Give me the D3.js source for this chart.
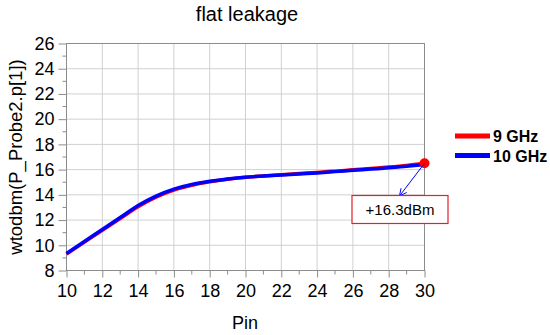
<!DOCTYPE html>
<html><head><meta charset="utf-8">
<script src="https://cdn.jsdelivr.net/npm/d3@7"></script>
<style>body{margin:0;background:#fff}svg{display:block;font-family:"Liberation Sans",Arial,sans-serif}</style>
</head><body><svg id="c" width="550" height="335"></svg>
<script>
const pin = [10,11,12,13,14,15,16,17,18,19,20,21,22,23,24,25,26,27,28,29,30];
const ghz9 = [9.30,10.25,11.18,12.12,13.06,13.82,14.38,14.76,15.03,15.24,15.40,15.50,15.60,15.69,15.78,15.88,15.98,16.09,16.20,16.33,16.50];
const ghz10 = [9.35,10.30,11.25,12.20,13.15,13.90,14.45,14.82,15.07,15.26,15.40,15.49,15.57,15.66,15.74,15.84,15.94,16.04,16.14,16.26,16.40];
const seriesNames = ["9 GHz","10 GHz"];
const seriesColors = ["#ff0000","#0000ff"];
const xTicks = [10,12,14,16,18,20,22,24,26,28,30];
const yTicks = [8,10,12,14,16,18,20,22,24,26];
const markerLabel = "+16.3dBm";

const svg = d3.select("#c");
const x = d3.scaleLinear().domain([10,30]).range([66.5,424.5]);
const y = d3.scaleLinear().domain([8,26]).range([270.5,43.5]);

// grid
const g = svg.append("g");
g.selectAll(".vg").data(xTicks.slice(1,-1)).join("line")
  .attr("x1",d=>x(d)).attr("x2",d=>x(d)).attr("y1",y(8)).attr("y2",y(26))
  .attr("stroke","#d0d0d0").attr("stroke-width",1);
g.selectAll(".hg").data(yTicks.slice(1,-1)).join("line")
  .attr("y1",d=>y(d)).attr("y2",d=>y(d)).attr("x1",x(10)).attr("x2",x(30))
  .attr("stroke","#d0d0d0").attr("stroke-width",1);
// frame
svg.append("rect").attr("x",x(10)).attr("y",y(26)).attr("width",x(30)-x(10)).attr("height",y(8)-y(26))
  .attr("fill","none").attr("stroke","#8c8c8c").attr("stroke-width",1);

// axes
const xAxis = d3.axisBottom(x).tickValues(xTicks).tickSize(7).tickPadding(7).tickFormat(d3.format("d"));
const xa = svg.append("g").attr("transform",`translate(0,${y(8)})`).call(xAxis);
const yAxis = d3.axisLeft(y).tickValues(yTicks).tickSize(8).tickPadding(4).tickFormat(d3.format("d"));
const ya = svg.append("g").attr("transform",`translate(${x(10)},0)`).call(yAxis);
[xa,ya].forEach(a=>{
  a.select(".domain").remove();
  a.selectAll(".tick line").attr("stroke","#8c8c8c");
  a.selectAll("text").attr("font-size",18).attr("fill","#000").attr("font-family","Liberation Sans, Arial, sans-serif");
});
// minor ticks
const xm = d3.range(11,30,2), ym = d3.range(9,26,2);
svg.append("g").selectAll("line").data(xm).join("line")
  .attr("x1",d=>x(d)).attr("x2",d=>x(d)).attr("y1",y(8)).attr("y2",y(8)+4).attr("stroke","#8c8c8c");
svg.append("g").selectAll("line").data(ym).join("line")
  .attr("y1",d=>y(d)).attr("y2",d=>y(d)).attr("x1",x(10)).attr("x2",x(10)-4).attr("stroke","#8c8c8c");

// lines
const line = d3.line().x((d,i)=>x(pin[i])).y(d=>y(d)).curve(d3.curveMonotoneX);
[ghz9,ghz10].forEach((s,i)=>{
  svg.append("path").datum(s).attr("d",line).attr("fill","none")
    .attr("stroke",seriesColors[i]).attr("stroke-width",3.5).attr("stroke-linejoin","round");
});

// marker
const mx = x(pin[pin.length-1]), my = y(ghz9[ghz9.length-1]);
svg.append("circle").attr("cx",mx).attr("cy",my).attr("r",5).attr("fill","#ff0000");
// arrow
const ax = x(28.6), ay = y(13.9);
svg.append("line").attr("x1",mx).attr("y1",my).attr("x2",ax).attr("y2",ay).attr("stroke","#0000ff").attr("stroke-width",1);
const ang = Math.atan2(ay-my, ax-mx);
[ang+Math.PI-0.45, ang+Math.PI+0.45].forEach(a=>{
  svg.append("line").attr("x1",ax).attr("y1",ay).attr("x2",ax+8*Math.cos(a)).attr("y2",ay+8*Math.sin(a))
    .attr("stroke","#0000ff").attr("stroke-width",1);
});
// label box
svg.append("rect").attr("x",352).attr("y",195.5).attr("width",96).attr("height",28)
  .attr("fill","#fff").attr("stroke","#e0202a").attr("stroke-width",1.2);
svg.append("text").attr("x",400).attr("y",215).attr("text-anchor","middle").attr("font-size",15).text(markerLabel);

// legend
seriesNames.forEach((n,i)=>{
  const ly = 136 + i*19.5;
  svg.append("line").attr("x1",455).attr("x2",490).attr("y1",ly).attr("y2",ly).attr("stroke",seriesColors[i]).attr("stroke-width",5);
  svg.append("text").attr("x",493).attr("y",ly+6).attr("font-size",16).attr("font-weight","bold").text(n);
});

// titles
svg.append("text").attr("x",247).attr("y",21).attr("text-anchor","middle").attr("font-size",20).text("flat leakage");
svg.append("text").attr("x",245).attr("y",329).attr("text-anchor","middle").attr("font-size",18).text("Pin");
svg.append("text").attr("transform","translate(22,157) rotate(-90)").attr("text-anchor","middle").attr("font-size",18.5).text("wtodbm(P_Probe2.p[1])");
</script></body></html>
